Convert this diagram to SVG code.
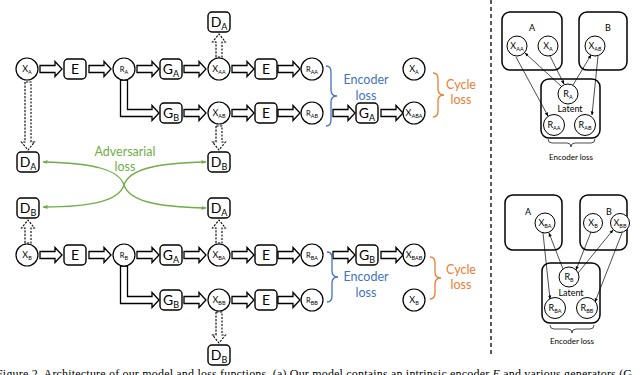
<svg xmlns="http://www.w3.org/2000/svg" width="640" height="375" viewBox="0 0 640 375">
<style>
.c{fill:#fff;stroke:#000;stroke-width:1.2}
.pc{fill:#fff;stroke:#000;stroke-width:1}
.b{fill:#fff;stroke:#000;stroke-width:1.4}
.pb{fill:none;stroke:#000;stroke-width:1.5}
.t{font-family:Lato,"Open Sans",sans-serif;text-anchor:middle;fill:#000}
.cx{font-size:9px}
.cr{font-size:7.5px}
.bx{font-size:14px}
.s{font-size:5.5px}
.bs{font-size:9px}
.px{font-size:9px}
.arr{fill:#fff;stroke:#000;stroke-width:1.3;stroke-linejoin:miter}
.dar{fill:#fff;stroke:#000;stroke-width:1.1;stroke-dasharray:2.2 1.3}
.thin{fill:none;stroke:#000;stroke-width:0.7;marker-end:url(#ka)}
.grn{fill:none;stroke:#70AD47;stroke-width:1.3;marker-end:url(#ga)}
.blu{fill:none;stroke:#4472C4;stroke-width:1.3}
.org{fill:none;stroke:#ED7D31;stroke-width:1.3}
.lb{font-family:Lato,"Open Sans",sans-serif;font-size:12.5px;text-anchor:middle}
</style>
<defs>
<path id="ha" d="M0,-3.5H15V-7.5L22,0L15,7.5V3.5H0Z"/>
<marker id="ga" viewBox="0 0 10 10" refX="9" refY="5" markerWidth="5" markerHeight="5" orient="auto" markerUnits="userSpaceOnUse"><path d="M0,1L10,5L0,9Z" fill="#70AD47"/></marker>
<marker id="ka" viewBox="0 0 10 10" refX="9" refY="5" markerWidth="4" markerHeight="4" orient="auto" markerUnits="userSpaceOnUse"><path d="M0,1L10,5L0,9Z" fill="#000"/></marker>
</defs>
<rect width="640" height="375" fill="#fff"/>

<g id="connectors">
  <!-- row 1 -->
  <use href="#ha" class="arr" x="40" y="69"/>
  <use href="#ha" class="arr" x="89" y="69"/>
  <use href="#ha" class="arr" x="137" y="69"/>
  <use href="#ha" class="arr" x="184" y="69"/>
  <use href="#ha" class="arr" x="232" y="69"/>
  <use href="#ha" class="arr" x="278" y="69"/>
  <!-- row 2 -->
  <use href="#ha" class="arr" x="184" y="113"/>
  <use href="#ha" class="arr" x="232" y="113"/>
  <use href="#ha" class="arr" x="278" y="113"/>
  <use href="#ha" class="arr" x="333" y="113"/>
  <use href="#ha" class="arr" x="381" y="113"/>
  <!-- row 3 -->
  <use href="#ha" class="arr" x="40" y="255"/>
  <use href="#ha" class="arr" x="89" y="255"/>
  <use href="#ha" class="arr" x="137" y="255"/>
  <use href="#ha" class="arr" x="184" y="255"/>
  <use href="#ha" class="arr" x="232" y="255"/>
  <use href="#ha" class="arr" x="278" y="255"/>
  <use href="#ha" class="arr" x="333" y="255"/>
  <use href="#ha" class="arr" x="381" y="255"/>
  <!-- row 4 -->
  <use href="#ha" class="arr" x="184" y="300"/>
  <use href="#ha" class="arr" x="232" y="300"/>
  <use href="#ha" class="arr" x="278" y="300"/>
  <!-- L-shaped branches -->
  <path class="arr" d="M120.5,80V116.5H152V120.5L159,113L152,105.5V109.5H127.5V80Z"/>
  <path class="arr" d="M120.5,266V303.5H152V307.5L159,300L152,292.5V296.5H127.5V266Z"/>
  <!-- dashed discriminator arrows -->
  <path class="dar" d="M216,57V42H212.5L219,34L225.5,42H222V57Z"/>
  <path class="dar" d="M25,82V142H21.5L28,150L34.5,142H31V82Z"/>
  <path class="dar" d="M216,126V142H212.5L219,150L225.5,142H222V126Z"/>
  <path class="dar" d="M25,243V228H21.5L28,220L34.5,228H31V243Z"/>
  <path class="dar" d="M216,243V228H212.5L219,220L225.5,228H222V243Z"/>
  <path class="dar" d="M216,312V335H212.5L219,343L225.5,335H222V312Z"/>
  <!-- adversarial loss -->
  <path class="grn" d="M124,185C119,170 95,163 43,162"/>
  <path class="grn" d="M124,185C129,170 153,163 206,162"/>
  <path class="grn" d="M124,185C119,200 95,207 43,207"/>
  <path class="grn" d="M124,185C129,200 153,207 206,208"/>
  <!-- braces -->
  <path class="blu" d="M326,66Q331,66 331,72V90Q331,96 337,96Q331,96 331,102V120Q331,126 326,126"/>
  <path class="blu" d="M327,252Q332,252 332,258V271Q332,277 338,277Q332,277 332,283V296Q332,302 327,302"/>
  <path class="org" d="M433,73Q438,73 438,79V89Q438,95 444,95Q438,95 438,101V111Q438,117 433,117"/>
  <path class="org" d="M430,257Q435,257 435,263V272Q435,278 441,278Q435,278 435,284V293Q435,299 430,299"/>
  <!-- right panel arrows -->
  <path class="thin" d="M561,86L525,53"/>
  <path class="thin" d="M550,56L564,84"/>
  <path class="thin" d="M573,85L591,55"/>
  <path class="thin" d="M516,57L548,116"/>
  <path class="thin" d="M598,56L592,115"/>
  <path class="thin" d="M563,269L549,233"/>
  <path class="thin" d="M543,233L550,299"/>
  <path class="thin" d="M591,232L576,270"/>
  <path class="thin" d="M578,273L613,230"/>
  <path class="thin" d="M622,233L595,302"/>
  <path d="M548,139Q548,143 552,143H567Q571,143 571,147Q571,143 575,143H591Q595,143 595,139" fill="none" stroke="#000" stroke-width="0.7"/>
  <path d="M550,325Q550,329 554,329H568Q572,329 572,333Q572,329 576,329H590Q594,329 594,325" fill="none" stroke="#000" stroke-width="0.7"/>
</g>

<g id="labels">
  <text class="lb" x="366" y="84" fill="#4472C4">Encoder</text>
  <text class="lb" x="366" y="100" fill="#4472C4">loss</text>
  <text class="lb" x="366" y="281" fill="#4472C4">Encoder</text>
  <text class="lb" x="366" y="297" fill="#4472C4">loss</text>
  <text class="lb" x="461" y="89" fill="#ED7D31">Cycle</text>
  <text class="lb" x="461" y="104" fill="#ED7D31">loss</text>
  <text class="lb" x="461" y="274" fill="#ED7D31">Cycle</text>
  <text class="lb" x="461" y="289" fill="#ED7D31">loss</text>
  <text class="lb" x="125" y="156" fill="#70AD47">Adversarial</text>
  <text class="lb" x="125" y="171" fill="#70AD47">loss</text>
</g>

<!-- top half nodes -->
<g id="xa1"><circle class="c" cx="27" cy="69" r="11"/><text class="t cx" x="27" y="72">X<tspan class="s" dy="1.5">A</tspan></text></g>
<g id="e1"><rect class="b" x="64" y="59" width="22" height="20" rx="4"/><text class="t bx" x="75" y="74">E</text></g>
<g id="ra"><circle class="c" cx="124" cy="69" r="11"/><text class="t cr" x="124" y="72">R<tspan class="s" dy="1.5">A</tspan></text></g>
<g id="ga1"><rect class="b" x="160" y="59" width="22" height="20" rx="4"/><text class="t bx" x="171" y="74">G<tspan class="bs" dy="2.5">A</tspan></text></g>
<g id="xaa"><circle class="c" cx="219" cy="69" r="11"/><text class="t cx" x="219" y="72">X<tspan class="s" dy="1.5">AA</tspan></text></g>
<g id="da1"><rect class="b" x="208" y="12" width="22" height="20" rx="4"/><text class="t bx" x="219" y="27">D<tspan class="bs" dy="2.5">A</tspan></text></g>
<g id="e2"><rect class="b" x="255" y="59" width="22" height="20" rx="4"/><text class="t bx" x="266" y="74">E</text></g>
<g id="raa"><circle class="c" cx="312" cy="69" r="11"/><text class="t cr" x="312" y="72">R<tspan class="s" dy="1.5">AA</tspan></text></g>
<g id="xa2"><circle class="c" cx="414" cy="69" r="11"/><text class="t cx" x="414" y="72">X<tspan class="s" dy="1.5">A</tspan></text></g>
<g id="gb1"><rect class="b" x="160" y="103" width="22" height="20" rx="4"/><text class="t bx" x="171" y="118">G<tspan class="bs" dy="2.5">B</tspan></text></g>
<g id="xab"><circle class="c" cx="219" cy="113" r="11"/><text class="t cx" x="219" y="116">X<tspan class="s" dy="1.5">AB</tspan></text></g>
<g id="e3"><rect class="b" x="255" y="103" width="22" height="20" rx="4"/><text class="t bx" x="266" y="118">E</text></g>
<g id="rab"><circle class="c" cx="312" cy="113" r="11"/><text class="t cr" x="312" y="116">R<tspan class="s" dy="1.5">AB</tspan></text></g>
<g id="ga2"><rect class="b" x="356" y="103" width="22" height="20" rx="4"/><text class="t bx" x="367" y="118">G<tspan class="bs" dy="2.5">A</tspan></text></g>
<g id="xaba"><circle class="c" cx="414" cy="113" r="11"/><text class="t cx" x="414" y="116">X<tspan class="s" dy="1.5">ABA</tspan></text></g>
<g id="da2"><rect class="b" x="17" y="152" width="22" height="20" rx="4"/><text class="t bx" x="28" y="167">D<tspan class="bs" dy="2.5">A</tspan></text></g>
<g id="db2"><rect class="b" x="208" y="152" width="22" height="20" rx="4"/><text class="t bx" x="219" y="167">D<tspan class="bs" dy="2.5">B</tspan></text></g>

<!-- bottom half nodes -->
<g id="db3"><rect class="b" x="17" y="198" width="22" height="20" rx="4"/><text class="t bx" x="28" y="213">D<tspan class="bs" dy="2.5">B</tspan></text></g>
<g id="da3"><rect class="b" x="208" y="198" width="22" height="20" rx="4"/><text class="t bx" x="219" y="213">D<tspan class="bs" dy="2.5">A</tspan></text></g>
<g id="xb1"><circle class="c" cx="27" cy="255" r="11"/><text class="t cx" x="27" y="258">X<tspan class="s" dy="1.5">B</tspan></text></g>
<g id="e4"><rect class="b" x="64" y="245" width="22" height="20" rx="4"/><text class="t bx" x="75" y="260">E</text></g>
<g id="rb"><circle class="c" cx="124" cy="255" r="11"/><text class="t cr" x="124" y="258">R<tspan class="s" dy="1.5">B</tspan></text></g>
<g id="ga3"><rect class="b" x="160" y="245" width="22" height="20" rx="4"/><text class="t bx" x="171" y="260">G<tspan class="bs" dy="2.5">A</tspan></text></g>
<g id="xba"><circle class="c" cx="219" cy="255" r="11"/><text class="t cx" x="219" y="258">X<tspan class="s" dy="1.5">BA</tspan></text></g>
<g id="e5"><rect class="b" x="255" y="245" width="22" height="20" rx="4"/><text class="t bx" x="266" y="260">E</text></g>
<g id="rba"><circle class="c" cx="312" cy="255" r="11"/><text class="t cr" x="312" y="258">R<tspan class="s" dy="1.5">BA</tspan></text></g>
<g id="gb3"><rect class="b" x="356" y="245" width="22" height="20" rx="4"/><text class="t bx" x="367" y="260">G<tspan class="bs" dy="2.5">B</tspan></text></g>
<g id="xbab"><circle class="c" cx="414" cy="255" r="11"/><text class="t cx" x="414" y="258">X<tspan class="s" dy="1.5">BAB</tspan></text></g>
<g id="gb4"><rect class="b" x="160" y="290" width="22" height="20" rx="4"/><text class="t bx" x="171" y="305">G<tspan class="bs" dy="2.5">B</tspan></text></g>
<g id="xbb"><circle class="c" cx="219" cy="300" r="11"/><text class="t cx" x="219" y="303">X<tspan class="s" dy="1.5">BB</tspan></text></g>
<g id="e6"><rect class="b" x="255" y="290" width="22" height="20" rx="4"/><text class="t bx" x="266" y="305">E</text></g>
<g id="rbb"><circle class="c" cx="312" cy="300" r="11"/><text class="t cr" x="312" y="303">R<tspan class="s" dy="1.5">BB</tspan></text></g>
<g id="xb2"><circle class="c" cx="414" cy="300" r="11"/><text class="t cx" x="414" y="303">X<tspan class="s" dy="1.5">B</tspan></text></g>
<g id="db4"><rect class="b" x="208" y="345" width="22" height="20" rx="4"/><text class="t bx" x="219" y="360">D<tspan class="bs" dy="2.5">B</tspan></text></g>

<!-- divider -->
<line x1="491" y1="0" x2="491" y2="356" stroke="#000" stroke-width="1.3" stroke-dasharray="4 3"/>

<!-- right panel top -->
<g id="pA1"><rect class="pb" x="502" y="12" width="60" height="58" rx="8"/><text class="t px" x="532" y="31">A</text></g>
<g id="pB1"><rect class="pb" x="579" y="12" width="48" height="58" rx="8"/><text class="t px" x="608" y="31">B</text></g>
<g id="pL1"><rect class="pb" x="541" y="79" width="59" height="59" rx="8"/><text class="t px" x="570" y="112">Latent</text></g>
<g id="pxaa"><circle class="pc" cx="517" cy="46" r="10"/><text class="t px" x="517" y="49">X<tspan class="s" dy="1.5">AA</tspan></text></g>
<g id="pxa"><circle class="pc" cx="548" cy="46" r="10"/><text class="t px" x="548" y="49">X<tspan class="s" dy="1.5">A</tspan></text></g>
<g id="pxab"><circle class="pc" cx="595" cy="46" r="10"/><text class="t px" x="595" y="49">X<tspan class="s" dy="1.5">AB</tspan></text></g>
<g id="pra"><circle class="pc" cx="568" cy="94" r="10"/><text class="t px" x="568" y="97">R<tspan class="s" dy="1.5">A</tspan></text></g>
<g id="praa"><circle class="pc" cx="554" cy="125" r="10.5"/><text class="t px" x="554" y="128">R<tspan class="s" dy="1.5">AA</tspan></text></g>
<g id="prab"><circle class="pc" cx="585" cy="125" r="10.5"/><text class="t px" x="585" y="128">R<tspan class="s" dy="1.5">AB</tspan></text></g>
<text class="t" x="571" y="160" font-size="8">Encoder loss</text>

<!-- right panel bottom -->
<g id="pA2"><rect class="pb" x="505" y="195" width="57" height="55" rx="8"/><text class="t px" x="528" y="215">A</text></g>
<g id="pB2"><rect class="pb" x="580" y="195" width="47" height="55" rx="8"/><text class="t px" x="609" y="215">B</text></g>
<g id="pL2"><rect class="pb" x="542" y="263" width="58" height="60" rx="8"/><text class="t px" x="571" y="296">Latent</text></g>
<g id="pxba"><circle class="pc" cx="545" cy="223" r="10"/><text class="t px" x="545" y="226">X<tspan class="s" dy="1.5">BA</tspan></text></g>
<g id="pxb"><circle class="pc" cx="593" cy="223" r="9.5"/><text class="t px" x="593" y="226">X<tspan class="s" dy="1.5">B</tspan></text></g>
<g id="pxbb"><circle class="pc" cx="620" cy="223" r="9.5"/><text class="t px" x="620" y="226">X<tspan class="s" dy="1.5">BB</tspan></text></g>
<g id="prb"><circle class="pc" cx="569" cy="277" r="10"/><text class="t px" x="569" y="280">R<tspan class="s" dy="1.5">B</tspan></text></g>
<g id="prba"><circle class="pc" cx="555" cy="308" r="10.5"/><text class="t px" x="555" y="311">R<tspan class="s" dy="1.5">BA</tspan></text></g>
<g id="prbb"><circle class="pc" cx="587" cy="308" r="10.5"/><text class="t px" x="587" y="311">R<tspan class="s" dy="1.5">BB</tspan></text></g>
<text class="t" x="572" y="344" font-size="8">Encoder loss</text>

<!-- caption (cut off) -->
<text x="-4" y="378" font-family="'Liberation Serif',serif" font-size="12" textLength="636" lengthAdjust="spacing">Figure 2. Architecture of our model and loss functions. (a) Our model contains an intrinsic encoder <tspan font-style="italic">E</tspan> and various generators (G</text>
</svg>
